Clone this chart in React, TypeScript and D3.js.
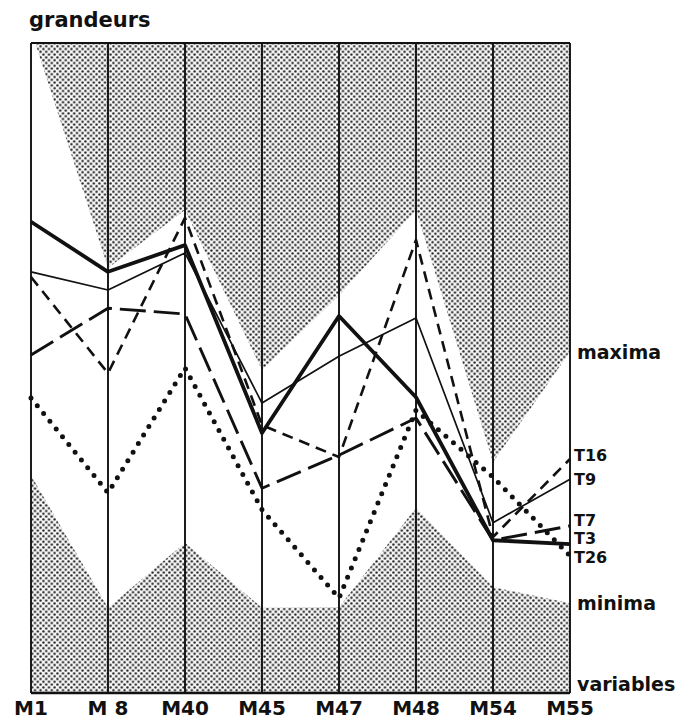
import React, { useEffect, useRef } from "react";
import * as d3 from "d3";

const variables = ["M1", "M8", "M40", "M45", "M47", "M48", "M54", "M55"];
const axisLabels = ["M1", "M 8", "M40", "M45", "M47", "M48", "M54", "M55"];

// grandeurs (0 = bas, 100 = haut du cadre)
const t3 = [72.5, 64.8, 68.9, 40.0, 58.0, 45.5, 23.5, 22.9];
const t9 = [64.8, 62.0, 67.7, 44.6, 51.8, 57.7, 26.2, 32.9];
const t16 = [64.0, 49.2, 73.1, 41.2, 36.3, 69.7, 24.0, 36.0];
const t7 = [52.0, 59.2, 58.3, 31.5, 36.6, 42.3, 23.5, 25.7];
const t26 = [45.4, 30.8, 50.0, 28.2, 14.6, 43.5, 33.2, 21.1];

const maxima = [102, 65.4, 74.3, 49.7, 61.2, 74.3, 35.5, 52.5];
const minima = [33.5, 13.1, 23.1, 13.1, 13.2, 28.5, 16.3, 13.8];

const seriesNames = ["T16", "T9", "T7", "T3", "T26"];
const seriesValues = [t16, t9, t7, t3, t26];
const labelLevels = [36.6, 32.9, 26.6, 23.8, 20.9];

const styles: Record<string, { w: number; dash: string; cap: string }> = {
  T16: { w: 2.6, dash: "11 7", cap: "butt" },
  T9: { w: 1.7, dash: "", cap: "butt" },
  T7: { w: 2.9, dash: "26 8", cap: "butt" },
  T3: { w: 3.8, dash: "", cap: "butt" },
  T26: { w: 5, dash: "0 10", cap: "round" },
};

export default function App() {
  const svgRef = useRef<SVGSVGElement>(null);

  useEffect(() => {
    const svg = d3.select(svgRef.current);
    svg.selectAll("*").remove();

    const left = 31, right = 570, top = 43, bottom = 693;
    const x = d3.scalePoint<string>().domain(variables).range([left, right]);
    const y = d3.scaleLinear().domain([0, 100]).range([bottom, top]);
    const font = "'DejaVu Sans', sans-serif";

    const defs = svg.append("defs");
    const pat = defs.append("pattern")
      .attr("id", "trame")
      .attr("patternUnits", "userSpaceOnUse")
      .attr("width", 5.6).attr("height", 5.6);
    pat.append("rect").attr("width", 5.6).attr("height", 5.6).attr("fill", "#f6f6f6");
    pat.append("circle").attr("cx", 1.4).attr("cy", 1.4).attr("r", 1.2).attr("fill", "#222");
    pat.append("circle").attr("cx", 4.2).attr("cy", 4.2).attr("r", 1.2).attr("fill", "#222");

    defs.append("clipPath").attr("id", "cadre")
      .append("rect")
      .attr("x", left).attr("y", top)
      .attr("width", right - left).attr("height", bottom - top);

    const g = svg.append("g");
    const shade = g.append("g").attr("clip-path", "url(#cadre)");

    // zone au-dessus des maxima
    shade.append("path")
      .datum(maxima)
      .attr("fill", "url(#trame)")
      .attr("d", d3.area<number>()
        .x((_, i) => x(variables[i])!)
        .y0(y(110))
        .y1((d) => y(d)));

    // zone au-dessous des minima
    shade.append("path")
      .datum(minima)
      .attr("fill", "url(#trame)")
      .attr("d", d3.area<number>()
        .x((_, i) => x(variables[i])!)
        .y0(y(0))
        .y1((d) => y(d)));

    // axes verticaux
    g.selectAll("line.axe")
      .data(variables)
      .join("line")
      .attr("class", "axe")
      .attr("x1", (d) => x(d)!).attr("x2", (d) => x(d)!)
      .attr("y1", y(100)).attr("y2", y(0))
      .attr("stroke", "#111")
      .attr("stroke-width", 1.9);

    g.append("line")
      .attr("x1", left).attr("x2", right)
      .attr("y1", y(100)).attr("y2", y(100))
      .attr("stroke", "#111").attr("stroke-width", 2);
    g.append("line")
      .attr("x1", left).attr("x2", right)
      .attr("y1", y(0)).attr("y2", y(0))
      .attr("stroke", "#111").attr("stroke-width", 2.4);

    const line = d3.line<number>()
      .x((_, i) => x(variables[i])!)
      .y((d) => y(d));

    seriesNames.forEach((name, k) => {
      const s = styles[name];
      g.append("path")
        .datum(seriesValues[k])
        .attr("fill", "none")
        .attr("stroke", "#111")
        .attr("stroke-width", s.w)
        .attr("stroke-dasharray", s.dash || null)
        .attr("stroke-linecap", s.cap)
        .attr("stroke-linejoin", "round")
        .attr("d", line);
    });

    // libellés
    g.append("text")
      .text("grandeurs")
      .attr("x", 29).attr("y", 27)
      .attr("font-family", font).attr("font-weight", 700)
      .attr("font-size", 21).attr("fill", "#111");

    g.selectAll("text.var")
      .data(variables)
      .join("text")
      .attr("class", "var")
      .text((_, i) => axisLabels[i])
      .attr("x", (d) => x(d)!)
      .attr("y", 715)
      .attr("text-anchor", "middle")
      .attr("font-family", font).attr("font-weight", 700)
      .attr("font-size", 20).attr("fill", "#111");

    g.selectAll("text.serie")
      .data(seriesNames)
      .join("text")
      .attr("class", "serie")
      .text((d) => d)
      .attr("x", right + 4)
      .attr("y", (_, i) => y(labelLevels[i]))
      .attr("dy", "0.36em")
      .attr("font-family", font).attr("font-weight", 700)
      .attr("font-size", 16).attr("fill", "#111");

    const side = [
      { t: "maxima", v: maxima[maxima.length - 1] },
      { t: "minima", v: minima[minima.length - 1] },
      { t: "variables", v: 0 },
    ];
    g.selectAll("text.side")
      .data(side)
      .join("text")
      .attr("class", "side")
      .text((d) => d.t)
      .attr("x", right + 7)
      .attr("y", (d) => y(d.v))
      .attr("dy", (d) => (d.v === 0 ? "-0.1em" : "0.36em"))
      .attr("font-family", font).attr("font-weight", 700)
      .attr("font-size", 19).attr("fill", "#111");
  }, []);

  return (
    <svg
      ref={svgRef}
      width={688}
      height={720}
      style={{ position: "absolute", left: 0, top: 0, background: "white" }}
    />
  );
}
